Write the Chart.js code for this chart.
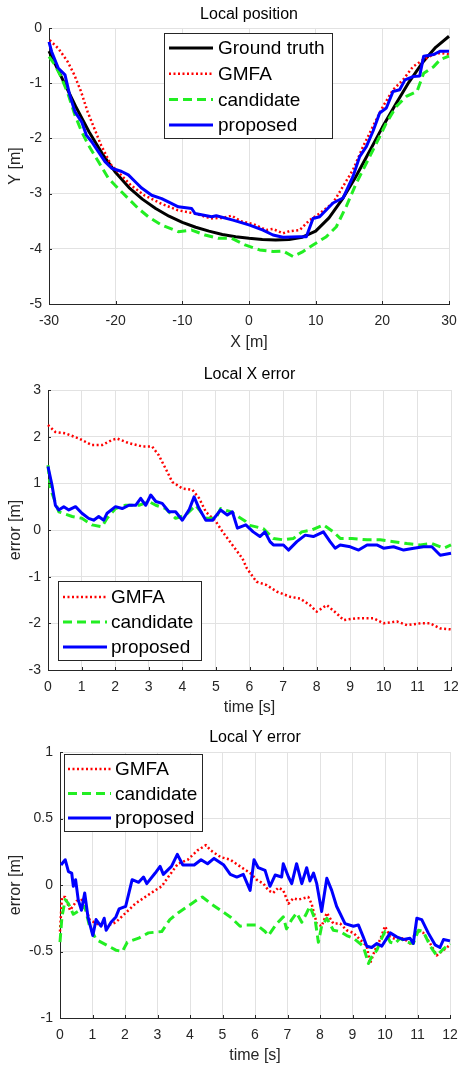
<!DOCTYPE html>
<html>
<head>
<meta charset="utf-8">
<script src="https://cdn.jsdelivr.net/npm/chart.js@4.4.1/dist/chart.umd.min.js"></script>
<style>
  body { margin: 0; background: #fff; width: 458px; height: 1065px; position: relative; overflow: hidden; }
  .box { position: absolute; left: 0; width: 458px; }
</style>
</head>
<body>
<div class="box" style="top:0;height:352px"><canvas id="posChart" width="458" height="352"></canvas></div>
<div class="box" style="top:352px;height:365px"><canvas id="xErrChart" width="458" height="365"></canvas></div>
<div class="box" style="top:717px;height:348px"><canvas id="yErrChart" width="458" height="348"></canvas></div>
<script>
// Local position (X [m] vs Y [m])
const gtX = [-30,-28,-26,-24,-22,-20,-18,-16,-14,-12,-10,-8,-6,-4,-2,0,2,4,6,8,10,12,14,16,18,20,22,24,26,28,30];
const gtY = [-0.42,-0.92,-1.42,-1.88,-2.28,-2.62,-2.89,-3.1,-3.27,-3.41,-3.52,-3.61,-3.68,-3.74,-3.78,-3.81,-3.83,-3.84,-3.83,-3.79,-3.68,-3.44,-3.1,-2.7,-2.25,-1.8,-1.38,-0.98,-0.63,-0.35,-0.15];

const gmfaPosX = [-29.9,-28.6,-27.2,-26.2,-25.2,-24.2,-23.2,-22.2,-20.7,-19.2,-17.7,-15.7,-13.2,-10.7,-8.2,-5.7,-4,-2.6,-1.2,0.6,2.6,3.6,5.1,6.1,7.6,9.1,10.6,12.6,14.1,15.6,17.1,18.6,20.1,21.6,23.1,24.6,26.2,27.7,28.7,30];
const gmfaPosY = [-0.22,-0.37,-0.61,-0.85,-1.15,-1.52,-1.82,-2.12,-2.48,-2.66,-2.85,-3.03,-3.18,-3.3,-3.36,-3.45,-3.44,-3.4,-3.5,-3.55,-3.66,-3.64,-3.72,-3.68,-3.66,-3.48,-3.36,-3.17,-2.87,-2.57,-2.15,-1.78,-1.42,-1.12,-0.94,-0.7,-0.57,-0.48,-0.45,-0.48];

const candPosX = [-30,-29.1,-28.1,-27.1,-26.1,-25.1,-24.1,-22.6,-21.1,-19.6,-18.1,-16.6,-15.1,-13.1,-10.6,-8.6,-6.6,-4.6,-2.6,-0.6,1.6,3.6,5.1,6.6,8.1,9.6,11.6,13.1,14.6,16.1,17.6,19.1,20.6,22.1,23.6,25.2,26.2,27.7,28.7,30];
const candPosY = [-0.52,-0.67,-0.91,-1.21,-1.58,-1.88,-2.12,-2.42,-2.72,-2.91,-3.09,-3.27,-3.42,-3.57,-3.69,-3.66,-3.75,-3.81,-3.81,-3.93,-4.02,-4.05,-4.04,-4.14,-4.05,-3.93,-3.78,-3.6,-3.23,-2.81,-2.45,-2.09,-1.72,-1.42,-1.24,-1.15,-0.82,-0.7,-0.57,-0.51];

const propPosX = [-30,-29.6,-28.6,-27.6,-26.9,-26.1,-25.1,-24.4,-23.6,-22.6,-21.6,-20.6,-19.1,-18.1,-17.1,-16.1,-14.6,-13.1,-12.1,-10.6,-8.6,-8.1,-5.6,-4.9,-2.4,0.1,2.1,3.6,5.1,7.6,8.6,9.6,10.6,12.6,14.1,15.6,16.6,17.6,18.6,19.6,20.6,21.6,22.6,23.4,24.6,25.6,26.2,27.7,28.7,30];
const propPosY = [-0.25,-0.43,-0.73,-0.85,-1.21,-1.52,-1.7,-1.94,-2.06,-2.24,-2.42,-2.54,-2.6,-2.66,-2.78,-2.9,-3.03,-3.09,-3.15,-3.24,-3.27,-3.36,-3.42,-3.4,-3.48,-3.57,-3.66,-3.75,-3.79,-3.78,-3.78,-3.45,-3.42,-3.17,-3.08,-2.69,-2.33,-2.15,-1.87,-1.54,-1.45,-1.15,-1.12,-0.94,-0.88,-0.87,-0.51,-0.48,-0.42,-0.42];

// Local X error (time [s] vs error [m])
const gmfaXT = [0,0.22,0.52,0.92,1.31,1.61,1.91,2.06,2.41,2.81,3.1,3.3,3.5,3.7,4.0,4.3,4.5,4.7,5.0,5.2,5.49,5.79,5.92,6.21,6.51,6.81,7.21,7.51,7.8,8.0,8.3,8.6,8.8,9.2,9.69,9.99,10.39,10.69,11.09,11.38,11.68,12];
const gmfaXErr = [2.25,2.1,2.07,1.96,1.82,1.82,1.93,1.96,1.86,1.79,1.79,1.6,1.32,1.03,0.89,0.86,0.68,0.39,0.18,-0.04,-0.32,-0.61,-0.82,-1.11,-1.18,-1.32,-1.43,-1.47,-1.61,-1.75,-1.61,-1.79,-1.93,-1.89,-1.89,-2.0,-1.96,-2.04,-2.0,-2.0,-2.11,-2.13];

const candXT = [0,0.07,0.32,0.72,1.01,1.31,1.61,1.76,2.01,2.31,2.71,3.01,3.21,3.5,3.8,4.1,4.4,4.7,5.0,5.14,5.44,5.89,6.01,6.41,6.71,7.01,7.31,7.56,7.85,8.2,8.5,8.7,9.05,9.5,9.89,10.29,10.69,11.09,11.43,11.78,12];
const candXErr = [1.39,0.89,0.39,0.29,0.25,0.11,0.07,0.25,0.46,0.53,0.53,0.61,0.53,0.46,0.25,0.32,0.53,0.25,0.25,0.46,0.39,0.18,0.1,0.03,-0.18,-0.21,-0.18,-0.04,0.0,0.11,-0.04,-0.18,-0.18,-0.21,-0.21,-0.25,-0.29,-0.32,-0.29,-0.39,-0.32];

const propXT = [0,0.12,0.22,0.32,0.47,0.62,0.82,1.01,1.21,1.36,1.51,1.66,1.76,2.01,2.21,2.41,2.61,2.76,2.91,3.06,3.21,3.4,3.6,3.8,4.0,4.2,4.35,4.5,4.7,4.9,5.14,5.34,5.49,5.64,5.89,6.11,6.31,6.46,6.61,6.71,7.01,7.16,7.41,7.66,7.9,8.2,8.4,8.55,8.7,9.0,9.25,9.5,9.79,9.99,10.29,10.59,10.89,11.18,11.43,11.68,12];
const propXErr = [1.36,0.96,0.53,0.43,0.5,0.43,0.5,0.36,0.25,0.21,0.29,0.21,0.36,0.5,0.46,0.53,0.53,0.68,0.53,0.75,0.61,0.57,0.39,0.39,0.21,0.43,0.71,0.46,0.21,0.21,0.43,0.32,0.39,0.04,0.11,-0.04,-0.14,-0.04,-0.25,-0.32,-0.32,-0.43,-0.25,-0.11,-0.14,-0.04,-0.25,-0.39,-0.32,-0.36,-0.43,-0.32,-0.32,-0.39,-0.36,-0.43,-0.39,-0.36,-0.36,-0.54,-0.5];

// Local Y error (time [s] vs error [m])
const gmfaYT = [0,0.06,0.16,0.31,0.51,0.71,0.91,1.11,1.42,1.72,2.02,2.32,2.62,2.93,3.13,3.33,3.63,3.93,4.23,4.49,4.64,4.94,5.24,5.54,5.85,6.05,6.26,6.41,6.56,6.72,6.87,7.03,7.18,7.33,7.49,7.64,7.74,7.9,8.05,8.21,8.41,8.62,8.82,9.03,9.23,9.44,9.54,9.69,9.85,10.0,10.16,10.36,10.57,10.77,10.98,11.18,11.39,11.59,11.8,12];
const gmfaYErr = [-0.35,-0.09,-0.09,-0.19,-0.12,-0.11,-0.26,-0.29,-0.31,-0.28,-0.21,-0.14,-0.09,-0.04,-0.01,0.06,0.16,0.19,0.26,0.3,0.26,0.21,0.19,0.14,0.09,0.04,0.01,-0.04,-0.06,-0.02,-0.04,-0.14,-0.1,-0.11,-0.1,-0.09,-0.14,-0.29,-0.31,-0.21,-0.29,-0.29,-0.34,-0.36,-0.41,-0.46,-0.59,-0.49,-0.41,-0.31,-0.39,-0.41,-0.4,-0.44,-0.34,-0.36,-0.44,-0.53,-0.49,-0.45];

const candYT = [0,0.06,0.16,0.26,0.41,0.61,0.76,0.91,1.11,1.42,1.72,1.92,2.07,2.42,2.72,3.13,3.38,3.63,3.93,4.23,4.38,4.64,4.94,5.24,5.54,5.74,6.05,6.31,6.41,6.67,6.87,6.97,7.13,7.28,7.44,7.59,7.69,7.85,7.95,8.05,8.21,8.41,8.62,8.82,9.03,9.33,9.49,9.59,9.75,9.9,10.0,10.16,10.31,10.46,10.67,10.87,11.03,11.18,11.39,11.59,11.8,12];
const candYErr = [-0.43,-0.24,-0.11,-0.14,-0.22,-0.19,-0.16,-0.31,-0.41,-0.45,-0.49,-0.5,-0.43,-0.4,-0.36,-0.35,-0.26,-0.21,-0.16,-0.11,-0.09,-0.14,-0.19,-0.24,-0.31,-0.3,-0.3,-0.35,-0.38,-0.29,-0.24,-0.33,-0.26,-0.21,-0.28,-0.21,-0.16,-0.26,-0.43,-0.31,-0.25,-0.34,-0.35,-0.38,-0.4,-0.46,-0.59,-0.54,-0.49,-0.4,-0.35,-0.43,-0.44,-0.4,-0.43,-0.44,-0.34,-0.35,-0.46,-0.53,-0.48,-0.44];

const propYT = [0.03,0.16,0.26,0.36,0.41,0.48,0.56,0.66,0.76,0.86,1.01,1.11,1.26,1.36,1.42,1.57,1.72,1.82,2.02,2.22,2.42,2.57,2.67,2.93,3.08,3.18,3.43,3.61,3.78,4.13,4.34,4.54,4.74,5.04,5.24,5.44,5.64,5.85,5.97,6.1,6.31,6.46,6.62,6.82,6.87,7.03,7.13,7.28,7.44,7.59,7.69,7.8,7.9,8.05,8.21,8.36,8.51,8.77,9.03,9.18,9.33,9.44,9.59,9.75,9.9,10.16,10.36,10.57,10.77,10.87,10.98,11.13,11.33,11.54,11.69,11.8,12];
const propYErr = [0.15,0.19,0.1,0.09,-0.01,0.04,-0.11,-0.19,-0.06,-0.24,-0.38,-0.26,-0.31,-0.25,-0.34,-0.28,-0.24,-0.18,-0.16,0.04,0.02,0.06,0.01,0.09,0.14,0.08,0.14,0.23,0.15,0.15,0.19,0.16,0.2,0.15,0.08,0.06,0.08,-0.04,0.19,0.13,0.11,-0.01,0.075,0.06,0.16,0.06,0.01,0.16,0.01,0.13,0.03,0.09,0.01,-0.2,0.05,-0.04,-0.16,-0.29,-0.31,-0.3,-0.39,-0.46,-0.47,-0.44,-0.46,-0.36,-0.39,-0.41,-0.4,-0.44,-0.25,-0.26,-0.36,-0.45,-0.47,-0.41,-0.42];

const FONT = '"Liberation Sans", Arial, Helvetica, sans-serif';
const TXT = '#262626';
const GRID = '#e2e2e2';
Chart.defaults.font.family = FONT;

const pts = (xs, ys) => xs.map((x, i) => ({ x, y: ys[i] }));

// line styles like the matlab plot
const styles = {
  gt:   { label: 'Ground truth', borderColor: '#000000', borderWidth: 3, borderDash: [], order: 4 },
  gmfa: { label: 'GMFA', borderColor: '#ff0000', borderWidth: 2.5, borderDash: [2, 2.5], order: 3 },
  cand: { label: 'candidate', borderColor: '#22ee22', borderWidth: 3, borderDash: [9, 5], order: 2 },
  prop: { label: 'proposed', borderColor: '#0000ff', borderWidth: 3, borderDash: [], order: 1 }
};

function series(style, xs, ys) {
  return Object.assign({
    data: pts(xs, ys),
    showLine: true,
    pointRadius: 0,
    tension: 0,
    fill: false,
    borderJoinStyle: 'round',
    clip: 2
  }, style);
}

// small inward tick marks on the bottom and left axes
const innerTicks = {
  id: 'innerTicks',
  afterDatasetsDraw(chart) {
    const { ctx, chartArea: a, scales } = chart;
    ctx.save();
    ctx.strokeStyle = TXT;
    ctx.lineWidth = 1;
    ctx.beginPath();
    scales.x.ticks.forEach(t => {
      const px = Math.round(scales.x.getPixelForValue(t.value)) + 0.5;
      ctx.moveTo(px, a.bottom);
      ctx.lineTo(px, a.bottom - 3);
    });
    scales.y.ticks.forEach(t => {
      const py = Math.round(scales.y.getPixelForValue(t.value)) + 0.5;
      ctx.moveTo(a.left, py);
      ctx.lineTo(a.left + 3, py);
    });
    ctx.stroke();
    ctx.restore();
  }
};

// legend box drawn inside the axes
const boxLegend = {
  id: 'boxLegend',
  afterDraw(chart, args, o) {
    const { ctx, chartArea } = chart;
    const x0 = Math.round(chartArea.left + o.dx), y0 = Math.round(chartArea.top + o.dy);
    ctx.save();
    ctx.fillStyle = '#fff';
    ctx.fillRect(x0, y0, o.w, o.h);
    ctx.strokeStyle = TXT;
    ctx.lineWidth = 1;
    ctx.strokeRect(x0 + 0.5, y0 + 0.5, o.w, o.h);
    chart.data.datasets.forEach((ds, i) => {
      const y = y0 + o.first + i * o.rowH;
      ctx.beginPath();
      ctx.setLineDash(ds.borderDash || []);
      ctx.strokeStyle = ds.borderColor;
      ctx.lineWidth = ds.borderWidth;
      ctx.moveTo(x0 + o.lineX, y);
      ctx.lineTo(x0 + o.lineX + o.lineLen, y);
      ctx.stroke();
      ctx.setLineDash([]);
      ctx.fillStyle = '#000';
      ctx.font = '19px ' + FONT;
      ctx.textBaseline = 'middle';
      ctx.fillText(ds.label, x0 + o.textX, y + 1);
    });
    ctx.restore();
  }
};

function xAxis(min, max, step, title, h) {
  return {
    type: 'linear', min, max,
    ticks: { stepSize: step, autoSkip: false, maxRotation: 0, padding: 9, color: TXT, font: { size: 14 },
      callback: v => String(v) },
    grid: { color: GRID, drawTicks: false },
    border: { color: TXT, width: 1 },
    title: { display: true, text: title, color: TXT, font: { size: 16 }, padding: { top: 0, bottom: 0 } },
    afterFit: s => { s.height = h; s.paddingLeft = 0; s.paddingRight = 0; }
  };
}

function yAxis(min, max, step, title, w) {
  return {
    type: 'linear', min, max,
    ticks: { stepSize: step, autoSkip: false, padding: 7, color: TXT, font: { size: 14 },
      callback: v => String(v) },
    grid: { color: GRID, drawTicks: false },
    border: { color: TXT, width: 1 },
    title: { display: true, text: title, color: TXT, font: { size: 16 }, padding: { top: 6, bottom: 0 } },
    afterFit: s => { s.width = w; s.paddingTop = 0; s.paddingBottom = 0; }
  };
}

function makeChart(id, datasets, o) {
  return new Chart(document.getElementById(id), {
    type: 'scatter',
    data: { datasets },
    options: {
      responsive: false,
      animation: false,
      layout: { padding: { left: 0, right: o.right, top: 0, bottom: 0 } },
      scales: { x: o.x, y: o.y },
      plugins: {
        legend: { display: false },
        tooltip: { enabled: false },
        title: {
          display: true, text: o.title, color: '#000',
          fullSize: false,
          font: { size: 16, weight: 'normal' },
          padding: { top: o.titleTop, bottom: o.titleBottom }
        },
        boxLegend: o.legend
      }
    },
    plugins: [innerTicks, boxLegend]
  });
}

makeChart('posChart', [
  series(styles.gt, gtX, gtY),
  series(styles.gmfa, gmfaPosX, gmfaPosY),
  series(styles.cand, candPosX, candPosY),
  series(styles.prop, propPosX, propPosY)
], {
  title: 'Local position', titleTop: 4.5, titleBottom: 4.3, right: 9,
  x: xAxis(-30, 30, 10, 'X [m]', 48),
  y: yAxis(-5, 0, 1, 'Y [m]', 49),
  legend: { dx: 115, dy: 5, w: 168, h: 105, first: 15, rowH: 25.7, lineX: 5, lineLen: 44, textX: 54 }
});

makeChart('xErrChart', [
  series(styles.gmfa, gmfaXT, gmfaXErr),
  series(styles.cand, candXT, candXErr),
  series(styles.prop, propXT, propXErr)
], {
  title: 'Local X error', titleTop: 13.4, titleBottom: 5.4, right: 7,
  x: xAxis(0, 12, 1, 'time [s]', 47),
  y: yAxis(-3, 3, 1, 'error [m]', 48),
  legend: { dx: 10, dy: 191, w: 143, h: 79, first: 16, rowH: 25, lineX: 5, lineLen: 44, textX: 53 }
});

makeChart('yErrChart', [
  series(styles.gmfa, gmfaYT, gmfaYErr),
  series(styles.cand, candYT, candYErr),
  series(styles.prop, propYT, propYErr)
], {
  title: 'Local Y error', titleTop: 11.4, titleBottom: 4.4, right: 8,
  x: xAxis(0, 12, 1, 'time [s]', 47),
  y: yAxis(-1, 1, 0.5, 'error [m]', 60),
  legend: { dx: 4, dy: 2, w: 138, h: 77, first: 15, rowH: 24.5, lineX: 4, lineLen: 43, textX: 51 }
});
</script>
</body>
</html>
